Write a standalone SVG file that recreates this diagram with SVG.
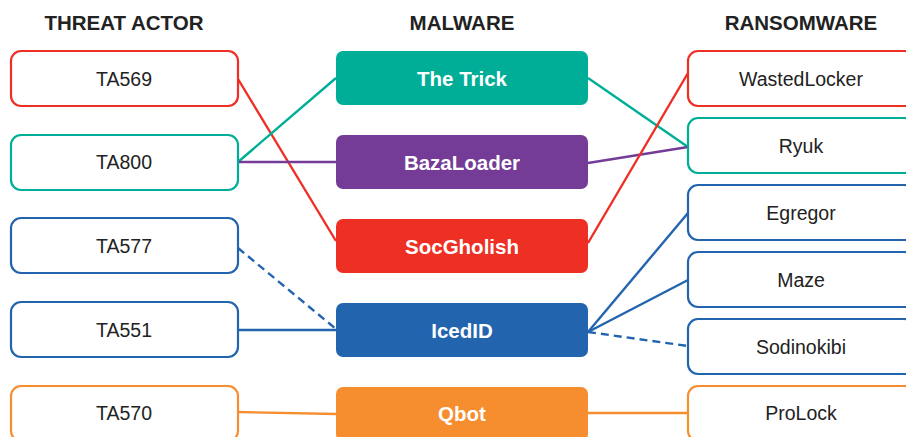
<svg xmlns="http://www.w3.org/2000/svg" width="906" height="437" viewBox="0 0 906 437">
  <style>
    .hdr { font-family: "Liberation Sans", Arial, sans-serif; font-size: 20.5px; font-weight: bold; fill: #222; text-anchor: middle; }
    .lbl { font-family: "Liberation Sans", Arial, sans-serif; font-size: 19.5px; fill: #222; text-anchor: middle; }
    .mlbl { font-family: "Liberation Sans", Arial, sans-serif; font-size: 20.5px; font-weight: bold; fill: #fff; text-anchor: middle; }
    .box { fill: #fff; stroke-width: 2.2; }
    .mbox { stroke: none; }
    .ln { fill: none; stroke-width: 2.4; }
    .dash { stroke-dasharray: 8 5; }
    .teal { stroke: #00AE98; }
    .purple { stroke: #743C96; }
    .red { stroke: #EE2F24; }
    .blue { stroke: #2364AF; }
    .orange { stroke: #F68D2E; }
  </style>

  <rect width="906" height="437" fill="#fff"/>

  <!-- column headings -->
  <text class="hdr" x="124" y="30">THREAT ACTOR</text>
  <text class="hdr" x="462" y="30">MALWARE</text>
  <text class="hdr" x="801" y="30">RANSOMWARE</text>

  <!-- connectors -->
  <g id="connectors">
    <line class="ln red" x1="238" y1="79" x2="336" y2="241"/>
    <line class="ln teal" x1="238" y1="162" x2="336" y2="78"/>
    <line class="ln purple" x1="238" y1="162" x2="336" y2="162"/>
    <line class="ln blue dash" x1="238" y1="248" x2="336" y2="329"/>
    <line class="ln blue" x1="238" y1="330" x2="336" y2="330"/>
    <line class="ln orange" x1="238" y1="412" x2="336" y2="414"/>

    <line class="ln teal" x1="588" y1="78" x2="688" y2="147"/>
    <line class="ln purple" x1="588" y1="163" x2="688" y2="147"/>
    <line class="ln red" x1="588" y1="243" x2="688" y2="73"/>
    <line class="ln blue" x1="588" y1="332" x2="688" y2="213"/>
    <line class="ln blue" x1="588" y1="332" x2="688" y2="280"/>
    <line class="ln blue dash" x1="588" y1="332" x2="688" y2="346"/>
    <line class="ln orange" x1="588" y1="413" x2="688" y2="413"/>
  </g>

  <!-- threat actors -->
  <g id="ta569"><rect class="box red" x="11" y="51" width="227" height="55" rx="10"/><text class="lbl" x="124" y="86">TA569</text></g>
  <g id="ta800"><rect class="box teal" x="11" y="135" width="227" height="55" rx="10"/><text class="lbl" x="124" y="169">TA800</text></g>
  <g id="ta577"><rect class="box blue" x="11" y="218" width="227" height="55" rx="10"/><text class="lbl" x="124" y="253">TA577</text></g>
  <g id="ta551"><rect class="box blue" x="11" y="302" width="227" height="55" rx="10"/><text class="lbl" x="124" y="337">TA551</text></g>
  <g id="ta570"><rect class="box orange" x="11" y="386" width="227" height="55" rx="10"/><text class="lbl" x="124" y="420">TA570</text></g>

  <!-- malware -->
  <g id="thetrick"><rect class="mbox" fill="#00AE98" x="336" y="51" width="252" height="54" rx="7"/><text class="mlbl" x="462" y="86">The Trick</text></g>
  <g id="bazaloader"><rect class="mbox" fill="#743C96" x="336" y="135" width="252" height="54" rx="7"/><text class="mlbl" x="462" y="170">BazaLoader</text></g>
  <g id="socgholish"><rect class="mbox" fill="#EE2F24" x="336" y="219" width="252" height="54" rx="7"/><text class="mlbl" x="462" y="254">SocGholish</text></g>
  <g id="icedid"><rect class="mbox" fill="#2364AF" x="336" y="303" width="252" height="54" rx="7"/><text class="mlbl" x="462" y="338">IcedID</text></g>
  <g id="qbot"><rect class="mbox" fill="#F68D2E" x="336" y="387" width="252" height="54" rx="7"/><text class="mlbl" x="462" y="421">Qbot</text></g>

  <!-- ransomware -->
  <g id="wastedlocker"><rect class="box red" x="688" y="51" width="226" height="55" rx="10"/><text class="lbl" x="801" y="86">WastedLocker</text></g>
  <g id="ryuk"><rect class="box teal" x="688" y="118" width="226" height="55" rx="10"/><text class="lbl" x="801" y="153">Ryuk</text></g>
  <g id="egregor"><rect class="box blue" x="688" y="185" width="226" height="55" rx="10"/><text class="lbl" x="801" y="220">Egregor</text></g>
  <g id="maze"><rect class="box blue" x="688" y="252" width="226" height="55" rx="10"/><text class="lbl" x="801" y="287">Maze</text></g>
  <g id="sodinokibi"><rect class="box blue" x="688" y="319" width="226" height="55" rx="10"/><text class="lbl" x="801" y="354">Sodinokibi</text></g>
  <g id="prolock"><rect class="box orange" x="688" y="386" width="226" height="55" rx="10"/><text class="lbl" x="801" y="420">ProLock</text></g>
</svg>
